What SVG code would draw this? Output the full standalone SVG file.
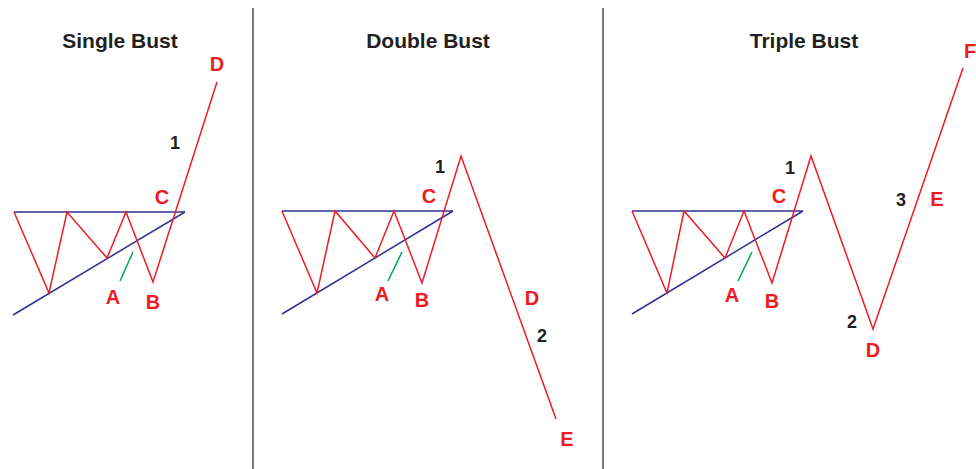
<svg xmlns="http://www.w3.org/2000/svg" width="976" height="469" viewBox="0 0 976 469">
<style>
.title{font-family:"Liberation Sans",Arial,sans-serif;font-weight:bold;font-size:21px;fill:#231f20;text-anchor:middle}
.lbl{font-family:"Liberation Sans",Arial,sans-serif;font-weight:bold;font-size:20px;fill:#ed1c24;text-anchor:middle}
.num{font-family:"Liberation Sans",Arial,sans-serif;font-weight:bold;font-size:18px;fill:#231f20;text-anchor:middle}
.red{fill:none;stroke:#ed1c24;stroke-width:1.5;stroke-linejoin:miter}
.blue{fill:none;stroke:#2e3192;stroke-width:1.5}
.green{fill:none;stroke:#00a651;stroke-width:1.5}
.div{stroke:#231f20;stroke-width:1.2}
</style>
<rect width="976" height="469" fill="#fff"/>
<g id="dividers">
<line class="div" x1="253" y1="8" x2="253" y2="469"/>
<line class="div" x1="603" y1="8" x2="603" y2="469"/>
</g>
<g id="single-bust">
<text class="title" x="120" y="48">Single Bust</text>
<line class="blue" x1="14" y1="212" x2="185" y2="212"/>
<line class="blue" x1="13" y1="315" x2="185" y2="212"/>
<polyline class="red" points="14,212 49,293 67,212 107,258 126,212 153,282 217,82"/>
<line class="green" x1="120" y1="281" x2="133" y2="252"/>
<text class="lbl" x="113" y="304">A</text>
<text class="lbl" x="153" y="309">B</text>
<text class="lbl" x="162" y="204">C</text>
<text class="lbl" x="217" y="71">D</text>
<text class="num" x="175" y="149">1</text>
</g>
<g id="double-bust">
<text class="title" x="428" y="48">Double Bust</text>
<line class="blue" x1="282" y1="211" x2="453" y2="211"/>
<line class="blue" x1="282" y1="314" x2="453" y2="211"/>
<polyline class="red" points="282,211 317,293 335,211 375,258 394,211 422,283 461,156 556,419"/>
<line class="green" x1="388" y1="281" x2="402" y2="252"/>
<text class="lbl" x="382" y="301">A</text>
<text class="lbl" x="422" y="307">B</text>
<text class="lbl" x="429" y="203">C</text>
<text class="lbl" x="532" y="305">D</text>
<text class="lbl" x="567" y="446">E</text>
<text class="num" x="440" y="173">1</text>
<text class="num" x="542" y="342">2</text>
</g>
<g id="triple-bust">
<text class="title" x="804" y="48">Triple Bust</text>
<line class="blue" x1="632" y1="211" x2="803" y2="211"/>
<line class="blue" x1="632" y1="314" x2="803" y2="211"/>
<polyline class="red" points="632,211 667,293 684,211 725,258 744,211 772,283 811,156 873,329 963,68"/>
<line class="green" x1="738" y1="281" x2="752" y2="252"/>
<text class="lbl" x="732" y="302">A</text>
<text class="lbl" x="772" y="308">B</text>
<text class="lbl" x="779" y="203">C</text>
<text class="lbl" x="873" y="357">D</text>
<text class="lbl" x="937" y="206">E</text>
<text class="lbl" x="970" y="58">F</text>
<text class="num" x="790" y="174">1</text>
<text class="num" x="852" y="328">2</text>
<text class="num" x="901" y="206">3</text>
</g>
</svg>
